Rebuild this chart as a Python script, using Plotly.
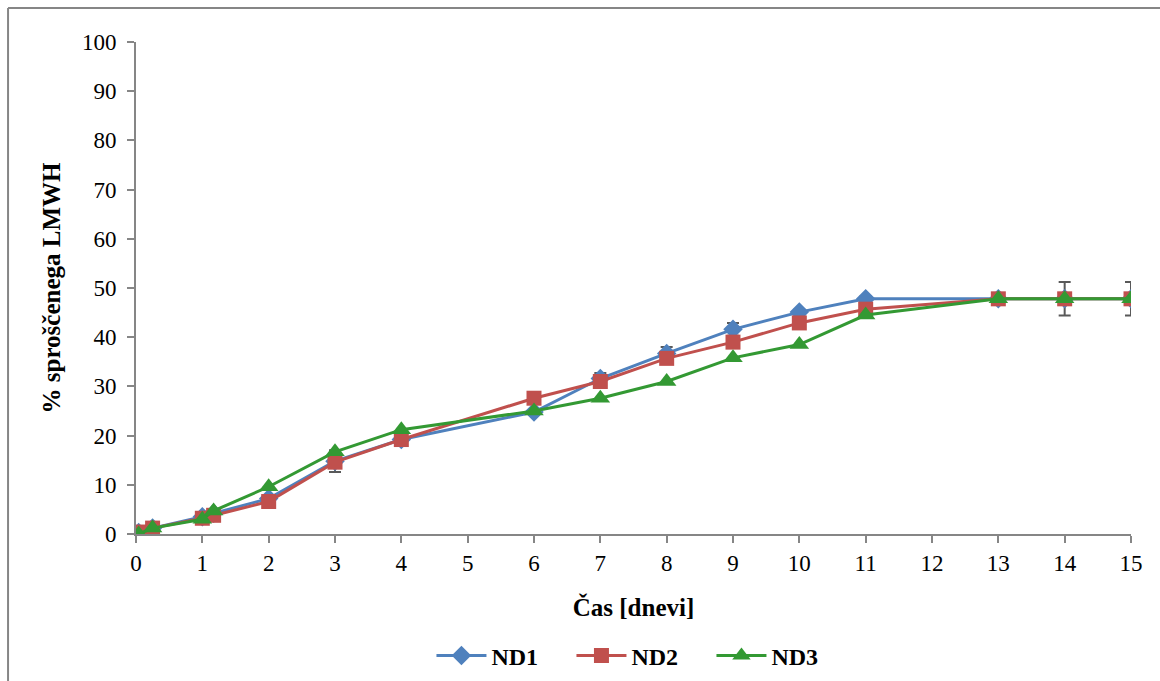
import plotly.graph_objects as go

days = [0.04, 0.25, 1, 1.17, 2, 3, 4, 6, 7, 8, 9, 10, 11, 13, 14, 15]
nd1 = [0.3, 1.2, 3.5, 4.2, 7.2, 14.8, 19.2, 24.8, 31.6, 36.7, 41.6, 45.1, 47.8, 47.8, 47.8, 47.8]
nd2 = [0.4, 1.2, 3.2, 3.8, 6.6, 14.6, 19.2, 27.6, 31.0, 35.7, 39.0, 42.9, 45.7, 47.8, 47.8, 47.8]
nd3 = [0.0, 1.2, 3.0, 4.7, 9.6, 16.7, 21.2, 25.0, 27.6, 31.0, 35.8, 38.5, 44.5, 47.8, 47.8, 47.8]
nd1_err = [0.3, 0.3, 0.4, 0.4, 0.5, 2.2, 0.5, 0.5, 1.1, 1.3, 1.3, 0.5, 0.5, 0.5, 3.4, 3.4]

x_ticks = list(range(0, 16))
y_ticks = list(range(0, 101, 10))

blue = "#4F81BD"
red = "#C0504D"
green = "#339933"
font_family = "Liberation Serif"

fig = go.Figure()
fig.add_trace(go.Scatter(
    x=days, y=nd1, name="ND1", mode="lines+markers",
    line=dict(color=blue, width=3),
    marker=dict(symbol="diamond", size=15, color=blue),
    error_y=dict(type="data", array=nd1_err, visible=True, color="#595959", thickness=2, width=6),
))
fig.add_trace(go.Scatter(
    x=days, y=nd2, name="ND2", mode="lines+markers",
    line=dict(color=red, width=3),
    marker=dict(symbol="square", size=15, color=red),
))
fig.add_trace(go.Scatter(
    x=days, y=nd3, name="ND3", mode="lines+markers",
    line=dict(color=green, width=3),
    marker=dict(symbol="triangle-up", size=17, color=green),
))

axis_color = "#868686"
title_font = dict(family=font_family, size=25, color="black", weight="bold")
fig.update_layout(
    width=1160, height=681,
    margin=dict(l=136, r=29, t=42, b=147, autoexpand=False),
    paper_bgcolor="white", plot_bgcolor="white",
    font=dict(family=font_family, size=23, color="black"),
    showlegend=True,
    legend=dict(orientation="h", x=0.508, xanchor="center", y=-0.248, yanchor="middle",
                font=dict(family=font_family, size=24, color="black", weight="bold"),
                itemwidth=50, entrywidth=75, entrywidthmode="pixels", traceorder="normal"),
    xaxis=dict(
        range=[0, 15], tickvals=x_ticks, ticktext=[str(v) for v in x_ticks],
        showgrid=False, zeroline=False, showline=True, linecolor=axis_color, linewidth=2,
        ticks="outside", ticklen=7, tickcolor=axis_color, tickwidth=1.5,
        tickfont=dict(family=font_family, size=23), ticklabelstandoff=0,
        title=dict(text="Čas [dnevi]", font=title_font, standoff=24),
    ),
    yaxis=dict(
        range=[0, 100], tickvals=y_ticks,
        showgrid=False, zeroline=False, showline=True, linecolor=axis_color, linewidth=2,
        ticks="outside", ticklen=7, tickcolor=axis_color, tickwidth=1.5,
        tickfont=dict(family=font_family, size=23), ticklabelstandoff=6,
        title=dict(text="% sproščenega LMWH", font=title_font, standoff=14),
    ),
)

# outer chart border (top and left edges visible)
fig.add_shape(type="line", xref="paper", yref="paper",
              x0=-0.1286, y0=1.0691, x1=1.05, y1=1.0691,
              line=dict(color=axis_color, width=2))
fig.add_shape(type="line", xref="paper", yref="paper",
              x0=-0.1286, y0=1.0691, x1=-0.1286, y1=-0.35,
              line=dict(color=axis_color, width=2))

fig.write_html("out.html")
